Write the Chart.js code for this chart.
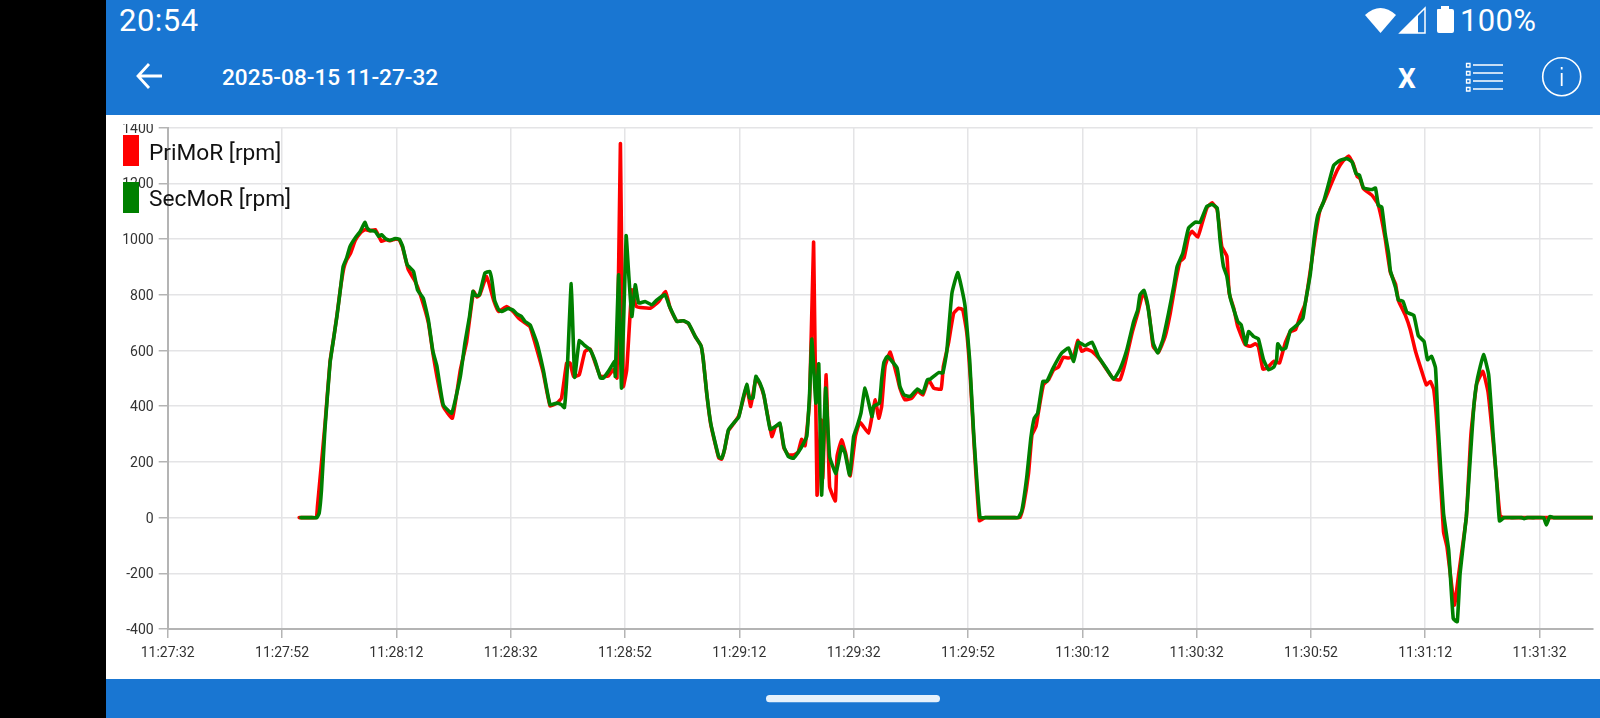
<!DOCTYPE html>
<html>
<head>
<meta charset="utf-8">
<title>2025-08-15 11-27-32</title>
<script src="https://cdn.jsdelivr.net/npm/chart.js@4"></script>
<style>
  html, body { margin: 0; padding: 0; background: #000; }
  #phone { position: absolute; left: 106px; top: 0; width: 1494px; height: 718px; background: #fff; overflow: hidden; font-family: Roboto, sans-serif; }
  .bar { position: absolute; left: 0; width: 100%; background: #1976d2; }
  .txt { position: absolute; color: #fff; white-space: nowrap; line-height: 1; }
  canvas { position: absolute; left: 0; top: 124px; }
  .swatch { position: absolute; left: 17px; width: 16px; height: 31px; }
  .leg { position: absolute; left: 43px; font-size: 22.7px; line-height: 1; color: #111; white-space: nowrap; }
  svg { position: absolute; left: 0; top: 0; }
</style>
</head>
<body>
<div id="phone">
  <div class="bar" style="top:0;height:115px"></div>
  <div class="bar" style="top:679.3px;height:39px"></div>
  <div class="txt" style="left:13px;top:5px;font-size:31px;letter-spacing:.5px">20:54</div>
  <div class="txt" style="left:1354px;top:5px;font-size:31px;letter-spacing:.3px">100%</div>
  <div class="txt" style="left:116px;top:67px;font-size:22.6px;font-weight:500">2025-08-15 11-27-32</div>
  <div class="txt" style="left:1292px;top:65px;font-size:28px;font-weight:700">X</div>
  <svg width="1494" height="718" fill="none" stroke="#fff">
    <!-- status icons -->
    <path d="M1259 15 Q1274.500 1 1290 15 L1274.500 33 Z" fill="#fff" stroke="none"/>
    <path d="M1294 33 L1319 8 V33 Z" stroke-width="1.500"/>
    <path d="M1294 33 L1312 15 V33 Z" fill="#fff" stroke="none"/>
    <path d="M1331 10 Q1331 9 1332 9 H1335 V6 H1343 V9 H1346 Q1348 9 1348 11 V31 Q1348 33 1346 33 H1333 Q1331 33 1331 31 Z" fill="#fff" stroke="none"/>
    <!-- back arrow -->
    <path d="M32 76 H56 M43 64 L32 76 L43 88" stroke-width="2.800"/>
    <!-- list icon -->
    <path d="M1367 65 H1397 M1367 73 H1397 M1367 81 H1397 M1367 89 H1397" stroke-width="1.600"/>
    <path d="M1360.500 63.500 h3.500 v3.500 h-3.500 z M1360.500 71.500 h3.500 v3.500 h-3.500 z M1360.500 79.500 h3.500 v3.500 h-3.500 z M1360.500 87.500 h3.500 v3.500 h-3.500 z" stroke-width="1.300"/>
    <!-- info icon -->
    <circle cx="1455.700" cy="76.700" r="19" stroke-width="1.600"/>
    <path d="M1455.700 73 V86 M1455.700 67 V69.500" stroke-width="1.800"/>
    <!-- gesture pill -->
    <rect x="660" y="695" width="174" height="7.300" rx="3.600" fill="#e6f1fb" stroke="none"/>
  </svg>
  <canvas id="rpmChart" width="1494" height="555"></canvas>
  <div class="swatch" style="top:135px;background:#ff0000"></div>
  <div class="leg" style="top:142px">PriMoR [rpm]</div>
  <div class="swatch" style="top:181.500px;background:#008000"></div>
  <div class="leg" style="top:188px">SecMoR [rpm]</div>
</div>
<script>
// seconds after 11:27:32
const timeLabels = ['11:27:32','11:27:52','11:28:12','11:28:32','11:28:52','11:29:12','11:29:32','11:29:52','11:30:12','11:30:32','11:30:52','11:31:12','11:31:32'];

const priTime = [23,24,25,26,26.2,27.5,28.4,29,29.6,30.2,30.8,31.3,32,32.8,33.7,34.5,35.4,36.3,36.9,37.4,38.2,38.9,39.8,40.5,41.1,42.1,43.3,44.2,45.6,46.4,47.1,48.2,49.8,51.2,52.3,53.5,54.1,54.6,55.8,57,57.9,59.3,60.5,61.4,62.8,63.4,64.6,65.7,66.9,68.1,68.9,69.8,70.4,71,72,73,73.9,74.8,75.7,77.1,78,78.6,79.2,79.7,80.3,81.2,82,84.4,85.9,87.1,87.9,89.1,90.2,91.1,92.3,93.3,93.7,94.3,95,95.8,96.4,96.9,97.4,98.1,99,99.9,100.6,101.3,102,102.9,103.6,104.3,105.7,106.3,107.1,107.8,108.6,109.5,110.3,110.9,111.5,112.3,113,113.6,114.3,114.6,115.2,115.8,116.8,117.1,117.9,118.6,119.4,120.3,121.1,122.6,123.2,123.8,124.4,124.9,125.5,126.4,127.6,128.1,129,130.2,131.2,132.1,133.1,134,135.3,135.7,136.6,137.5,138.4,139.1,139.8,140.4,141.1,142,143,144,145,146,147,148,149.1,149.7,150.6,151.2,151.9,152.3,153.2,154.1,155,155.8,156.7,157.6,158.5,159.2,159.9,160.7,161.7,163.1,164.3,165.5,166.6,167.5,168.7,169.7,170.7,171.6,172.4,173.3,174.5,175.4,176.3,177.1,177.8,178.6,179.2,180.2,180.9,181.8,182.7,183.6,184.4,185.3,185.7,186.5,187.2,188.5,189.4,190.3,190.8,191.6,192.3,193.5,194.5,195.5,196.4,197.3,198.1,199,199.9,200.8,201.6,202.5,203.4,204.6,205.6,206.6,207.4,208.1,208.6,209.2,210.7,211.7,212.3,213,213.9,214.8,215.3,216.5,217.4,218.3,219.4,220.2,220.9,221.5,222.2,223.2,223.8,225.1,225.8,227.2,228,229,230.1,231,231.9,232.6,233.1,233.8,235,237,239,240.7,243,246,249.3];
const priRpm = [0,0,0,0,40,330,560,640,725,820,895,925,950,995,1022,1034,1030,1034,1012,992,998,994,1000,998,970,890,848,800,700,590,507,399,357,531,632,812,792,800,866,782,740,758,738,716,695,685,603,520,401,411,429,555,555,507,513,597,605,555,507,509,533,501,1343,471,531,818,758,752,776,812,752,704,707,696,650,617,567,445,335,263,215,210,243,312,337,365,418,470,399,500,480,437,291,325,335,250,225,225,235,281,258,420,989,81,351,141,513,111,60,219,279,231,150,291,343,303,363,423,357,399,543,594,507,465,423,429,455,440,495,465,461,543,627,734,752,746,663,507,255,-11,0,0,0,0,0,0,0,40,159,297,327,375,477,495,531,540,576,573,579,636,597,605,597,567,531,497,495,555,662,734,812,746,615,593,650,734,842,920,932,1010,1028,1007,1052,1112,1130,1106,974,938,806,752,686,621,615,624,615,533,537,561,555,627,668,674,722,768,887,1015,1105,1145,1190,1247,1280,1298,1271,1225,1217,1181,1157,1127,1079,1001,881,839,780,728,674,597,525,477,489,459,291,-50,-104,-314,-212,4,300,480,525,450,270,110,6,0,0,0,0,0,0,0,0];

const secTime = [23.3,24,25,26.1,26.5,26.9,27.5,28.4,29,29.6,30.2,30.7,31.3,31.9,32.8,33.7,34.5,34.9,35.4,36.3,36.9,37.4,38.2,38.9,39.8,40.5,41.1,41.9,43,43.7,44.7,45.6,46.4,47.1,48.2,49.7,51.2,52,52.8,53.4,53.8,54.5,55.5,56.3,56.7,57.2,57.9,58.4,59.6,60.5,61.1,61.9,62.5,63.4,64.6,65.7,66.9,68.1,68.9,69.4,69.9,70.6,71.2,72,73,73.9,74.8,75.7,76.2,77.1,78.2,78.3,78.9,79.4,80.2,80.6,81.2,81.8,82.4,83.5,84.7,85.6,87,87.8,89.1,90.2,91.1,92.3,93.3,93.7,94.3,95,95.8,96.4,96.9,97.4,98.1,99,99.9,100.6,101.3,101.8,102.4,102.9,103.6,104.3,105.4,106.3,107.1,107.8,108.6,109.5,110.4,111.1,111.8,112.3,112.7,113.4,113.9,114.4,115.1,115.8,116.9,117.9,118.5,119.3,120,120.6,121.3,122,123.2,123.5,124.5,124.9,125.3,125.9,127.6,128.1,128.8,129.9,131.2,132.1,132.9,133.4,134.9,135.6,136.3,137.2,138.2,138.9,139.5,140.3,141,142.1,143,144,145,146,147,148,148.8,149.4,150.3,151,151.6,152.2,153.1,153.8,154.9,156.4,157.6,158.5,159.3,160.5,161.7,162.8,164.3,165.5,166.6,167.8,169,169.7,170.1,170.8,171.4,172.4,173.2,174.1,175.1,176,176.6,177.6,178.6,179.8,180.6,181.8,182.7,183.6,184.1,184.7,185.3,185.9,187.2,187.8,188.6,189.1,190,190.8,191.7,192.6,193.5,194,194.2,194.9,195.6,196.4,197.6,198.6,199,199.9,200.6,201.2,202.2,203.1,204,205.1,206.3,207.2,207.9,208.5,209.2,210.7,211.3,211.8,212.4,213,213.6,213.9,214.8,215.3,216.1,216.8,218,218.8,219.8,220.4,221.1,221.8,222.3,223.2,224.1,224.9,225.6,226.1,227.2,227.9,228.5,229.1,230.2,231.1,231.9,232.6,233,233.8,235,236.9,237.3,237.8,239,240.7,241.2,241.8,242.5,244,246,249.3];
const secRpm = [0,0,0,0,16,99,315,555,639,722,818,902,932,974,1004,1028,1060,1040,1031,1028,1010,1016,1000,996,1002,1000,974,908,884,818,788,710,597,543,405,375,507,627,722,812,798,798,878,884,854,780,746,740,751,744,731,722,704,692,627,531,405,411,405,395,531,840,504,635,617,603,561,501,501,525,561,507,872,465,1012,890,722,836,770,776,764,782,800,758,704,707,698,650,617,567,447,339,267,219,213,243,315,339,361,423,479,429,429,507,483,441,317,327,339,255,219,213,237,261,291,447,641,411,552,81,465,219,159,255,231,153,291,327,377,465,363,399,411,495,557,579,537,471,441,435,462,447,495,497,521,519,597,806,880,824,758,567,303,0,0,0,0,0,0,0,0,22,147,285,357,375,489,489,537,591,609,561,630,617,630,579,533,497,533,603,704,746,800,816,770,627,591,639,734,830,902,950,1040,1061,1060,1118,1124,1112,998,902,866,788,704,692,623,668,650,642,567,531,540,567,624,603,609,671,692,716,768,875,1007,1085,1133,1199,1265,1283,1289,1277,1235,1229,1184,1178,1183,1121,1115,1019,947,887,827,782,777,737,726,653,632,567,579,537,315,16,-116,-362,-374,-200,4,219,399,495,585,513,291,99,-12,0,0,0,-4,0,0,0,-26,4,0,0,0,0];

const toPoints = (xs, ys) => xs.map((x, i) => ({ x: x, y: ys[i] }));

new Chart(document.getElementById('rpmChart').getContext('2d'), {
  type: 'line',
  data: {
    datasets: [
      { label: 'PriMoR [rpm]', data: toPoints(priTime, priRpm), borderColor: '#ff0000', borderWidth: 3.6, order: 2, tension: 0.12, pointRadius: 0, borderJoinStyle: 'round', borderCapStyle: 'round' },
      { label: 'SecMoR [rpm]', data: toPoints(secTime, secRpm), borderColor: '#008000', borderWidth: 3.6, order: 1, tension: 0.12, pointRadius: 0, borderJoinStyle: 'round', borderCapStyle: 'round' }
    ]
  },
  options: {
    responsive: false,
    animation: false,
    layout: { autoPadding: false, padding: { top: 3.7, right: 7.3, left: 0, bottom: 0 } },
    plugins: { legend: { display: false }, tooltip: { enabled: false } },
    scales: {
      x: {
        type: 'linear', min: 0, max: 249.3,
        border: { color: '#b4b4b4', width: 2 },
        grid: { color: '#e4e4e6', lineWidth: 1.5, tickColor: '#b4b4b4', tickLength: 9, tickWidth: 1.5 },
        ticks: { stepSize: 20, includeBounds: false, autoSkip: false, maxRotation: 0, padding: 7, color: '#333', font: { family: 'Roboto', size: 14 }, callback: (v, i) => timeLabels[i] },
        afterFit: s => { s.height = 50; s.paddingLeft = 0; s.paddingRight = 0; }
      },
      y: {
        min: -400, max: 1400,
        border: { color: '#b4b4b4', width: 2 },
        grid: { color: '#e4e4e6', lineWidth: 1.5, tickColor: '#b4b4b4', tickLength: 9, tickWidth: 1.5 },
        ticks: { stepSize: 200, padding: 5, labelOffset: 1.5, color: '#333', font: { family: 'Roboto', size: 14 }, callback: v => String(v) },
        afterFit: s => { s.width = 61.7; s.paddingTop = 0; s.paddingBottom = 0; }
      }
    }
  }
});
</script>
</body>
</html>
